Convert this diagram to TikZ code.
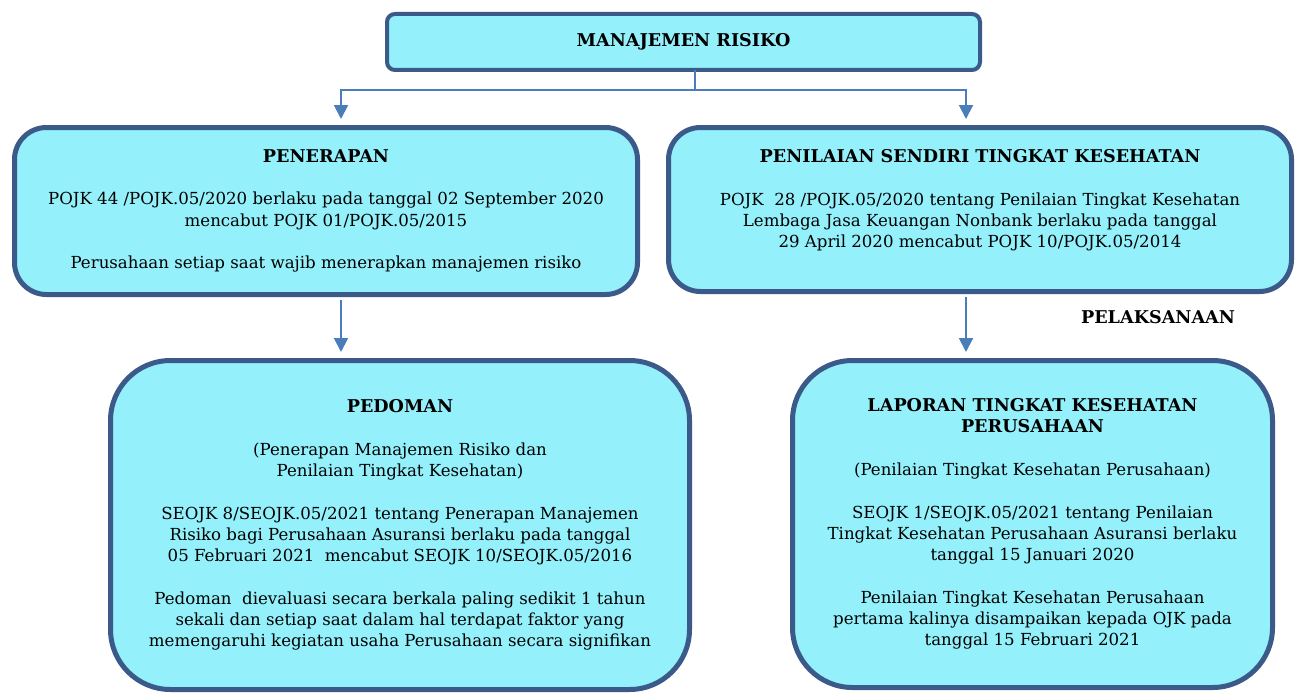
\documentclass[tikz,border=0pt]{standalone}
\usepackage{fontspec}
\setmainfont{DejaVu Serif}
\usetikzlibrary{arrows.meta,positioning}
\definecolor{boxFill}{RGB}{148,240,250}
\definecolor{boxLine}{RGB}{59,90,138}
\definecolor{arrowLine}{RGB}{74,126,187}
\newcommand{\boxHead}[1]{{\fontsize{17.6}{21.3}\selectfont\bfseries #1}}

\begin{document}
\begin{tikzpicture}[x=1pt,y=-1pt,
    box/.style={draw=boxLine,fill=boxFill,line width=5pt,align=center,inner sep=0pt,
      font=\fontsize{16.6}{21.3}\selectfont},
    linkLine/.style={draw=arrowLine,line width=2pt},
    link/.style={linkLine,-{Triangle[width=14pt,length=14pt]},shorten >=6pt}]

      \useasboundingbox (0,0) rectangle (1296,693);

      % draw the boxes
      \node[box,line width=4pt,rounded corners=8pt,minimum width=593pt,minimum height=56pt]
        (risiko) at (683.5,42) {\boxHead{MANAJEMEN RISIKO}};

      \node[box,rounded corners=32pt,minimum width=623pt,minimum height=167pt]
        (penerapan) at (326,211)
        {\boxHead{PENERAPAN}\\[21.3pt]
         POJK 44 /POJK.05/2020 berlaku pada tanggal 02 September 2020\\
         mencabut POJK 01/POJK.05/2015\\[21.3pt]
         Perusahaan setiap saat wajib menerapkan manajemen risiko};

      \node[box,rounded corners=32pt,minimum width=623pt,minimum height=164pt,text depth=22pt]
        (penilaian) at (980,209.5)
        {\boxHead{PENILAIAN SENDIRI TINGKAT KESEHATAN}\\[21.3pt]
         POJK~ 28 /POJK.05/2020 tentang Penilaian Tingkat Kesehatan\\
         Lembaga Jasa Keuangan Nonbank berlaku pada tanggal\\
         29 April 2020 mencabut POJK 10/POJK.05/2014};

      \node[box,rounded corners=60pt,minimum width=579pt,minimum height=329pt]
        (pedoman) at (400,525)
        {\boxHead{PEDOMAN}\\[21.3pt]
         (Penerapan Manajemen Risiko dan\\
         Penilaian Tingkat Kesehatan)\\[21.3pt]
         SEOJK 8/SEOJK.05/2021 tentang Penerapan Manajemen\\
         Risiko bagi Perusahaan Asuransi berlaku pada tanggal\\
         05 Februari 2021~ mencabut SEOJK 10/SEOJK.05/2016\\[21.3pt]
         Pedoman~ dievaluasi secara berkala paling sedikit 1 tahun\\
         sekali dan setiap saat dalam hal terdapat faktor yang\\
         memengaruhi kegiatan usaha Perusahaan secara signifikan};

      \node[box,rounded corners=60pt,minimum width=480pt,minimum height=327pt]
        (laporan) at (1032.5,524)
        {\boxHead{LAPORAN TINGKAT KESEHATAN}\\
         \boxHead{PERUSAHAAN}\\[21.3pt]
         (Penilaian Tingkat Kesehatan Perusahaan)\\[21.3pt]
         SEOJK 1/SEOJK.05/2021 tentang Penilaian\\
         Tingkat Kesehatan Perusahaan Asuransi berlaku\\
         tanggal 15 Januari 2020\\[21.3pt]
         Penilaian Tingkat Kesehatan Perusahaan\\
         pertama kalinya disampaikan kepada OJK pada\\
         tanggal 15 Februari 2021};

      \node (pelaksanaan) at (1158,317) {\boxHead{PELAKSANAAN}};

      % draw the connectors
      \coordinate (split) at (695,90);
      \coordinate (colL) at (341,0);
      \coordinate (colR) at (966,0);
      \draw[linkLine] ([yshift=2pt]risiko.south -| split) -- (split);
      \draw[link] (split) -| (penerapan.north -| colL);
      \draw[link] (split) -| (penilaian.north -| colR);
      \draw[link,shorten <=2.5pt] (penerapan.south -| colL) -- (pedoman.north -| colL);
      \draw[link,shorten <=2.5pt] (penilaian.south -| colR) -- (laporan.north -| colR);

\end{tikzpicture}
\end{document}
